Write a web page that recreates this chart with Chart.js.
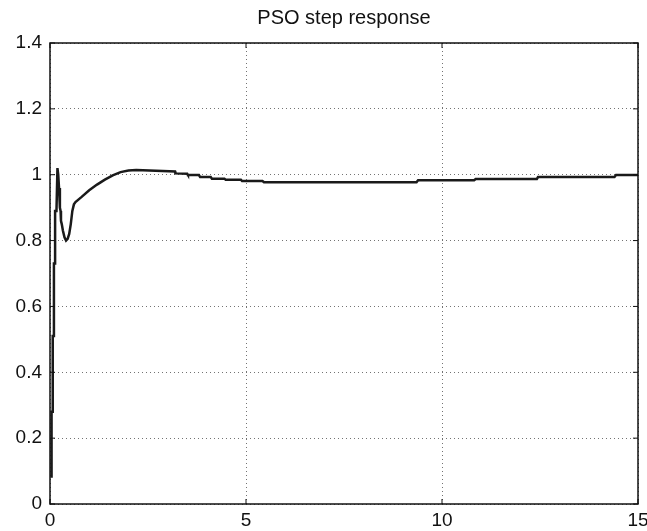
<!DOCTYPE html>
<html>
<head>
<meta charset="utf-8">
<script src="https://cdn.jsdelivr.net/npm/chart.js@4.4.1/dist/chart.umd.min.js"></script>
<style>
  html, body { margin: 0; padding: 0; background: #fff; }
  #wrap { width: 647px; height: 531px; }
</style>
</head>
<body>
<div id="wrap"><canvas id="chart"></canvas></div>
<script>
const TITLE = "PSO step response";
const X_TICKS = [0, 5, 10, 15];
const Y_TICKS = [0, 0.2, 0.4, 0.6, 0.8, 1, 1.2, 1.4];

// time (s) and output
const TIME = [
  0.04, 0.04, 0.07, 0.07, 0.10, 0.10, 0.13, 0.13, 0.165, 0.19,
  0.21, 0.23, 0.25, 0.255, 0.27, 0.28, 0.30, 0.33, 0.37, 0.41,
  0.45, 0.49, 0.53, 0.57, 0.61, 0.65, 0.8, 1.0, 1.2, 1.4,
  1.6, 1.8, 2.0, 2.2, 3.19, 3.2, 3.5, 3.52, 3.8, 3.83,
  4.1, 4.13, 4.45, 4.48, 4.87, 4.9, 5.42, 5.46, 9.35, 9.39,
  10.82, 10.86, 12.42, 12.45, 14.4, 14.44, 15,
];
const RESPONSE = [
  0.08, 0.28, 0.28, 0.51, 0.51, 0.73, 0.73, 0.89, 0.89, 1.02,
  1.00, 0.96, 0.95, 0.90, 0.89, 0.86, 0.85, 0.83, 0.81, 0.80,
  0.805, 0.82, 0.85, 0.89, 0.91, 0.917, 0.932, 0.953, 0.97, 0.985,
  0.998, 1.008, 1.013, 1.014, 1.01, 1.004, 1.003, 0.999, 0.999, 0.993,
  0.993, 0.988, 0.988, 0.985, 0.985, 0.981, 0.981, 0.977, 0.977, 0.983,
  0.983, 0.987, 0.987, 0.993, 0.993, 0.999, 0.999,
];

const FONT = "'Liberation Sans', Arial, Helvetica, sans-serif";

// box round the plot and short inward ticks, MATLAB style
const boxPlugin = {
  id: "box",
  afterDraw(chart) {
    const { ctx, chartArea: a, scales } = chart;
    ctx.save();
    ctx.strokeStyle = "#111";
    ctx.lineWidth = 1;
    ctx.beginPath();
    X_TICKS.forEach((v) => {
      const x = scales.x.getPixelForValue(v);
      ctx.moveTo(x, a.bottom); ctx.lineTo(x, a.bottom - 5);
      ctx.moveTo(x, a.top); ctx.lineTo(x, a.top + 5);
    });
    Y_TICKS.forEach((v) => {
      const y = scales.y.getPixelForValue(v);
      ctx.moveTo(a.left, y); ctx.lineTo(a.left + 5, y);
      ctx.moveTo(a.right, y); ctx.lineTo(a.right - 5, y);
    });
    ctx.stroke();
    ctx.lineWidth = 1.5;
    ctx.strokeRect(a.left, a.top, a.right - a.left, a.bottom - a.top);
    ctx.restore();
  },
};

const gridStyle = {
  color: "rgba(0,0,0,0.55)",
  lineWidth: 1,
  drawTicks: false,
};

new Chart(document.getElementById("chart"), {
  type: "line",
  data: {
    datasets: [{
      data: TIME.map((t, i) => ({ x: t, y: RESPONSE[i] })),
      borderColor: "#1a1a1a",
      borderWidth: 2.5,
      pointRadius: 0,
      tension: 0,
      fill: false,
    }],
  },
  options: {
    responsive: true,
    maintainAspectRatio: false,
    animation: false,
    layout: { padding: { right: 9 } },
    plugins: {
      legend: { display: false },
      tooltip: { enabled: false },
      title: {
        display: true,
        fullSize: false,
        text: TITLE,
        color: "#111",
        font: { family: FONT, size: 20, weight: "normal" },
        padding: { top: 6, bottom: 13 },
      },
    },
    scales: {
      x: {
        type: "linear",
        min: 0,
        max: 15,
        afterBuildTicks: (s) => { s.ticks = X_TICKS.map((v) => ({ value: v })); },
        afterFit: (s) => { s.height = 27; s.paddingRight = 0; s.paddingLeft = 0; },
        grid: { ...gridStyle },
        border: { display: false, dash: [1, 3] },
        ticks: { color: "#111", padding: 5, maxRotation: 0, font: { family: FONT, size: 19 } },
      },
      y: {
        min: 0,
        max: 1.4,
        afterBuildTicks: (s) => { s.ticks = Y_TICKS.map((v) => ({ value: v })); },
        afterFit: (s) => { s.width = 50; s.paddingTop = 0; s.paddingBottom = 0; },
        grid: { ...gridStyle },
        border: { display: false, dash: [1, 3] },
        ticks: {
          color: "#111",
          padding: 8,
          font: { family: FONT, size: 19 },
          callback: (v) => String(v),
        },
      },
    },
  },
  plugins: [boxPlugin],
});
</script>
</body>
</html>
